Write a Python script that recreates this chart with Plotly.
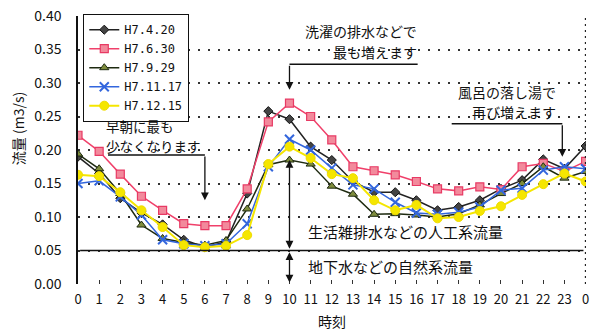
import plotly.graph_objects as go

hours = list(range(25))
tick_labels = [str(h) for h in range(24)] + ["0"]
y_ticks = [0.00, 0.05, 0.10, 0.15, 0.20, 0.25, 0.30, 0.35, 0.40]

series_names = ["H7.4.20", "H7.6.30", "H7.9.29", "H7.11.17", "H7.12.15"]

h7_04_20 = [0.190, 0.165, 0.128, 0.106, 0.089, 0.066, 0.055, 0.063, 0.135, 0.258,
            0.246, 0.205, 0.185, 0.153, 0.137, 0.137, 0.125, 0.110, 0.115, 0.125,
            0.142, 0.155, 0.186, 0.172, 0.206]
h7_06_30 = [0.222, 0.198, 0.164, 0.131, 0.110, 0.090, 0.087, 0.087, 0.142, 0.242,
            0.270, 0.250, 0.215, 0.175, 0.169, 0.163, 0.153, 0.142, 0.139, 0.145,
            0.141, 0.175, 0.180, 0.168, 0.183]
h7_09_29 = [0.194, 0.172, 0.135, 0.088, 0.068, 0.062, 0.058, 0.065, 0.112, 0.178,
            0.185, 0.179, 0.146, 0.134, 0.104, 0.105, 0.103, 0.100, 0.105, 0.118,
            0.135, 0.150, 0.175, 0.158, 0.168]
h7_11_17 = [0.150, 0.154, 0.130, 0.103, 0.066, 0.060, 0.057, 0.060, 0.090, 0.175,
            0.216, 0.200, 0.173, 0.148, 0.142, 0.122, 0.106, 0.104, 0.107, 0.115,
            0.140, 0.143, 0.170, 0.175, 0.172]
h7_12_15 = [0.163, 0.161, 0.137, 0.110, 0.085, 0.058, 0.055, 0.057, 0.073, 0.179,
            0.205, 0.188, 0.164, 0.158, 0.125, 0.110, 0.118, 0.098, 0.100, 0.109,
            0.116, 0.133, 0.149, 0.165, 0.153]

FONT = "Noto Sans CJK JP"
MONO = "DejaVu Sans Mono"

styles = [
    dict(line=dict(color="#222222", width=1.5),
         marker=dict(symbol="diamond", size=7, color="#444444", line=dict(color="#111111", width=1))),
    dict(line=dict(color="#f0406a", width=1.5),
         marker=dict(symbol="square", size=8, color="#f28a9c", line=dict(color="#e83a64", width=1.2))),
    dict(line=dict(color="#1e2a10", width=1.5),
         marker=dict(symbol="triangle-up", size=8, color="#7e8c3c", line=dict(color="#1e2a10", width=1))),
    dict(line=dict(color="#3366dd", width=1.5),
         marker=dict(symbol="x-thin", size=9, color="#3366dd", line=dict(color="#3366dd", width=2))),
    dict(line=dict(color="#f5e600", width=2),
         marker=dict(symbol="circle", size=9, color="#f5e600", line=dict(color="#f0dc00", width=1))),
]

fig = go.Figure()
for name, vals, st in zip(series_names, [h7_04_20, h7_06_30, h7_09_29, h7_11_17, h7_12_15], styles):
    fig.add_trace(go.Scatter(x=hours, y=vals, mode="lines+markers", name=name,
                             line=st["line"], marker=st["marker"]))

# solid separator line at 0.05
fig.add_shape(type="line", xref="x", yref="y", x0=0.1, x1=23.9, y0=0.05, y1=0.05,
              line=dict(color="#111111", width=1.5))
# right dotted border
fig.add_shape(type="line", xref="x", yref="y", x0=24, x1=24, y0=0, y1=0.40,
              line=dict(color="#222222", width=1.5, dash="2px,4px"))

# annotation underlines
fig.add_shape(type="line", xref="x", yref="y", x0=1.42, x1=6.0, y0=0.1925, y1=0.1925,
              line=dict(color="#111111", width=1.5))
fig.add_shape(type="line", xref="x", yref="y", x0=10.0, x1=16.06, y0=0.328, y1=0.328,
              line=dict(color="#111111", width=1.5))
fig.add_shape(type="line", xref="x", yref="y", x0=17.67, x1=22.9, y0=0.239, y1=0.239,
              line=dict(color="#111111", width=1.5))

arrow_kw = dict(showarrow=True, arrowhead=2, arrowsize=1.2, arrowwidth=1.3, arrowcolor="#111111",
                axref="x", ayref="y", xref="x", yref="y", text="")


def note(x, y, text, anchor, size):
    return dict(x=x, y=y, xref="x", yref="y", text=text, showarrow=False,
                xanchor=anchor, yanchor="middle", align=anchor,
                font=dict(family=FONT, size=size, color="#111111"))


annotations = [
    dict(x=6.0, y=0.125, ax=6.0, ay=0.1925, **arrow_kw),
    dict(x=10.0, y=0.290, ax=10.0, ay=0.328, **arrow_kw),
    dict(x=22.9, y=0.190, ax=22.9, ay=0.239, **arrow_kw),
    dict(x=10.0, y=0.185, ax=10.0, ay=0.0505, arrowside="end+start", **arrow_kw),
    dict(x=10.0, y=0.0475, ax=10.0, ay=0.0, arrowside="end+start", **arrow_kw),
    note(1.25, 0.2358, "早朝に最も", "left", 13.5),
    note(1.25, 0.2064, "少なくなります", "left", 13.5),
    note(16.1, 0.3769, "洗濯の排水などで", "right", 14),
    note(16.1, 0.3463, "最も増えます", "right", 14),
    note(22.7, 0.2866, "風呂の落し湯で", "right", 14),
    note(22.7, 0.2560, "再び増えます", "right", 14),
    note(10.8, 0.078, "生活雑排水などの人工系流量", "left", 15),
    note(10.8, 0.026, "地下水などの自然系流量", "left", 15),
    dict(x=-0.118, y=0.578, xref="paper", yref="paper", text="流量 (m3/s)", showarrow=False,
         textangle=-90, xanchor="center", yanchor="middle", font=dict(family=FONT, size=14, color="#111111")),
    dict(x=0.5, y=-0.137, xref="paper", yref="paper", text="時刻", showarrow=False,
         xanchor="center", yanchor="middle", font=dict(family=FONT, size=14, color="#111111")),
]

fig.update_layout(
    width=595, height=330,
    margin=dict(l=78, r=9, t=16, b=46, autoexpand=False),
    paper_bgcolor="white", plot_bgcolor="white",
    font=dict(family=FONT, size=13, color="#111111"),
    annotations=annotations,
    legend=dict(x=0.01, y=1.0075, xanchor="left", yanchor="top",
                bgcolor="white", bordercolor="#111111", borderwidth=1.2,
                font=dict(family=MONO, size=12, color="#111111"),
                tracegroupgap=0, itemwidth=30),
    showlegend=True,
)
fig.update_xaxes(range=[0, 24.02], tickvals=hours, ticktext=tick_labels, showgrid=False,
                 showline=False, zeroline=False, ticks="inside", ticklen=4, tickcolor="#333333",
                 ticklabelstandoff=6, automargin=False, ticklabeloverflow="allow",
                 tickfont=dict(family=FONT, size=13))
fig.update_yaxes(range=[0, 0.40], tickvals=y_ticks, tickformat=".2f", showgrid=True,
                 gridcolor="#333333", gridwidth=1.5, griddash="2px,8px", zeroline=False,
                 showline=True, linecolor="#111111", linewidth=1.5, ticks="", ticklabelstandoff=12,
                 automargin=False, ticklabeloverflow="allow", tickfont=dict(family=FONT, size=14))

# remove the browser's default 8px body margin so the figure sits at the page origin
fig.write_html("out.html", config={"displayModeBar": False},
               post_script="document.body.style.margin='0';")
